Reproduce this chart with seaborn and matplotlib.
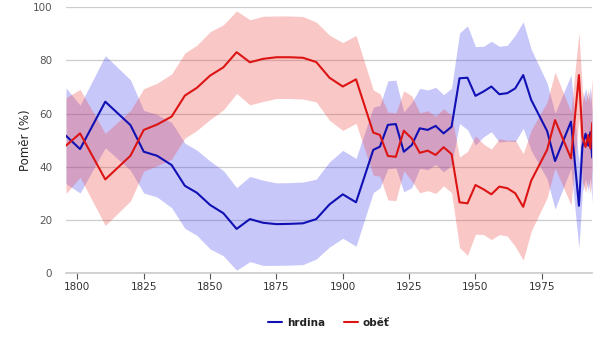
import numpy as np
import pandas as pd
import matplotlib
matplotlib.use("Agg")
import matplotlib.pyplot as plt
import seaborn as sns

years = [1795.7, 1801, 1810.5, 1820, 1825, 1830, 1835.5, 1840.5, 1845, 1850,
         1855, 1860, 1865, 1870, 1875, 1880, 1885, 1890, 1895, 1900,
         1905, 1911.5, 1914, 1917, 1920, 1923, 1926, 1929, 1932, 1935,
         1938, 1941, 1944, 1947, 1950, 1953, 1956, 1959, 1962, 1965,
         1968, 1971, 1977, 1980, 1986, 1989, 1990.3, 1991.5, 1992.5, 1993.3,
         1994]
hrdina = [51.7, 46.7, 64.5, 55.7, 45.7, 44.2, 40.7, 32.9, 30.3, 25.7,
          22.6, 16.7, 20.4, 19.0, 18.5, 18.6, 18.8, 20.4, 25.9, 29.7,
          26.7, 46.4, 47.6, 55.8, 56.1, 45.7, 48.2, 54.5, 53.9, 55.4,
          52.6, 55.1, 73.3, 73.5, 66.7, 68.3, 70.2, 67.3, 67.7, 69.5,
          74.5, 65.2, 53.5, 42.2, 57.0, 25.4, 47.6, 52.5, 48.0, 53.0,
          43.5]
obet = [48.0, 52.6, 35.3, 44.2, 53.9, 55.9, 58.9, 66.8, 69.7, 74.3,
        77.4, 83.1, 79.3, 80.6, 81.2, 81.2, 81.0, 79.4, 73.5, 70.2,
        72.9, 52.9, 52.0, 44.1, 43.8, 53.6, 50.7, 45.3, 46.1, 44.5,
        47.4, 44.8, 26.7, 26.3, 33.2, 31.6, 29.7, 32.6, 32.0, 30.1,
        25.0, 34.8, 46.4, 57.6, 43.2, 74.5, 51.4, 47.5, 52.0, 47.0,
        56.5]
spread = [18, 16.5, 17.3, 17, 15.5, 15.5, 16, 16, 16, 16.5,
          16, 15.5, 16, 16, 15.5, 15.5, 15.5, 15, 16, 16.5,
          16.5, 16, 15.5, 16.5, 16.5, 15, 16, 15, 15, 14.5,
          14.5, 14.5, 17, 19.5, 18.5, 17, 17, 18, 18, 20,
          20, 19, 18, 18, 17.5, 16, 17, 17, 17, 17,
          17]
series = ["hrdina", "oběť"]
colors = ["#1010b4", "#dc1414"]
band_colors = ["#4646f0", "#f04646"]
xticks = [1800, 1825, 1850, 1875, 1900, 1925, 1950, 1975]
yticks = [0, 20, 40, 60, 80, 100]

sns.set_theme(style="white")
plt.rcParams['font.family'] = ['DejaVu Sans']

df = pd.DataFrame({
    "rok": years * 2,
    "pomer": hrdina + obet,
    "typ": [series[0]] * len(years) + [series[1]] * len(years),
})

fig = plt.figure(figsize=(6.0, 3.43), dpi=100)
ax = fig.add_axes([0.11, 0.203, 0.877, 0.776])

yr = np.array(years)
sp = np.array(spread)
for vals, bc in zip([hrdina, obet], band_colors):
    v = np.array(vals)
    ax.fill_between(yr, v - sp, v + sp, color=bc, alpha=0.3, linewidth=0, zorder=1)

sns.lineplot(data=df, x="rok", y="pomer", hue="typ", palette=colors,
             hue_order=series, linewidth=1.5, ax=ax, zorder=3)

ax.set_xlim(1795.7, 1994)
ax.set_ylim(0, 100)
ax.set_xticks(xticks)
ax.set_yticks(yticks)
ax.set_xlabel("")
ax.set_ylabel("Poměr (%)", fontsize=8.5, color="#222222", labelpad=0)
ax.grid(axis="y", color="#cccccc", linewidth=0.9, zorder=0)
ax.grid(axis="x", visible=False)
for s in ["top", "right", "left"]:
    ax.spines[s].set_visible(False)
ax.spines["bottom"].set_color("#cccccc")
ax.tick_params(axis="x", colors="#555555", labelsize=7.5, length=4, width=0.8,
               direction="out", bottom=True, pad=2)
ax.tick_params(axis="x", labelcolor="#333333")
ax.tick_params(axis="y", labelcolor="#555555", labelsize=7.5, length=0, pad=10)

leg = ax.legend(loc="lower center", bbox_to_anchor=(0.5, -0.24), ncol=2,
                frameon=False, fontsize=7.5, handlelength=1.3,
                columnspacing=1.8, handletextpad=0.5)
for t in leg.get_texts():
    t.set_fontweight("bold")
    t.set_color("#222222")

fig.savefig("out.png", dpi=100)
